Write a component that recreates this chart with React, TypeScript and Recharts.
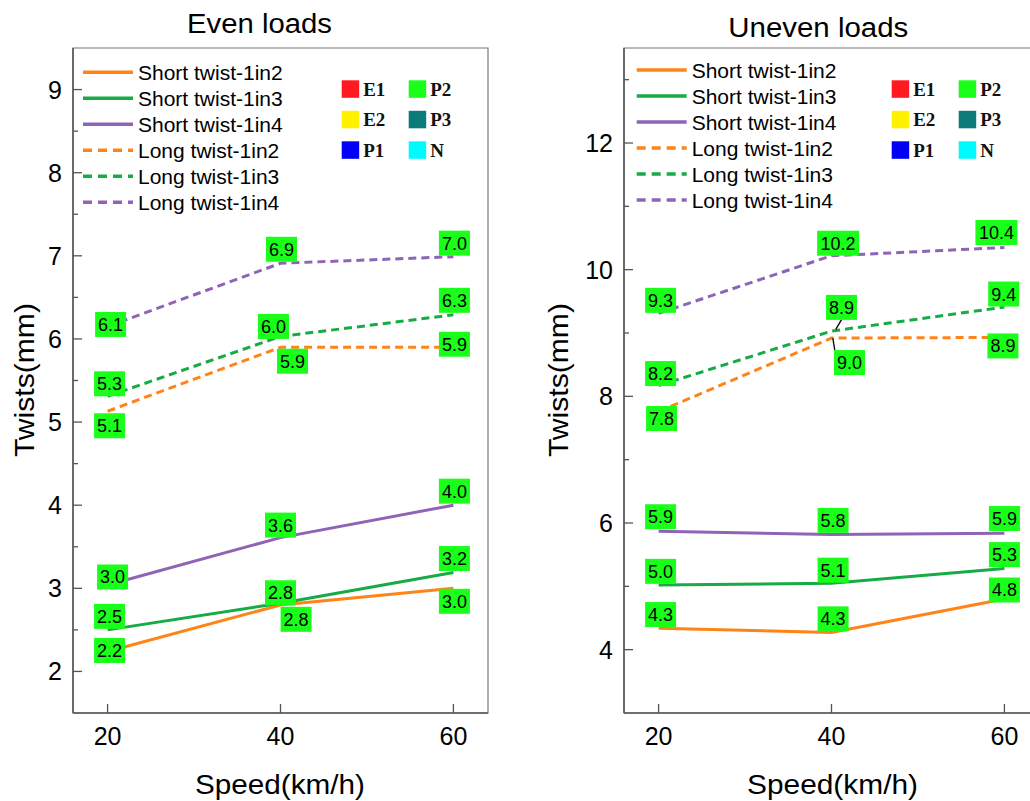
import React from "react";
import { LineChart, Line, XAxis, YAxis, ReferenceArea } from "recharts";

const speeds = [20, 40, 60];

// Even loads (mm)
const evenShort2 = [2.24, 2.8, 3.0];
const evenShort3 = [2.5, 2.82, 3.19];
const evenShort4 = [3.04, 3.61, 4.0];
const evenLong2 = [5.13, 5.9, 5.9];
const evenLong3 = [5.31, 6.03, 6.29];
const evenLong4 = [6.15, 6.91, 6.99];

// Even loads – printed data labels
const evenShort2Labels = ["2.2", "2.8", "3.0"];
const evenShort3Labels = ["2.5", "2.8", "3.2"];
const evenShort4Labels = ["3.0", "3.6", "4.0"];
const evenLong2Labels = ["5.1", "5.9", "5.9"];
const evenLong3Labels = ["5.3", "6.0", "6.3"];
const evenLong4Labels = ["6.1", "6.9", "7.0"];

// Uneven loads (mm)
const unevenShort2 = [4.34, 4.27, 4.8];
const unevenShort3 = [5.02, 5.05, 5.28];
const unevenShort4 = [5.87, 5.82, 5.84];
const unevenLong2 = [7.76, 8.92, 8.93];
const unevenLong3 = [8.17, 9.03, 9.41];
const unevenLong4 = [9.31, 10.22, 10.35];

const unevenShort2Labels = ["4.3", "4.3", "4.8"];
const unevenShort3Labels = ["5.0", "5.1", "5.3"];
const unevenShort4Labels = ["5.9", "5.8", "5.9"];
const unevenLong2Labels = ["7.8", "9.0", "8.9"];
const unevenLong3Labels = ["8.2", "8.9", "9.4"];
const unevenLong4Labels = ["9.3", "10.2", "10.4"];

const evenTicks = [2, 2.5, 3, 3.5, 4, 4.5, 5, 5.5, 6, 6.5, 7, 7.5, 8, 8.5, 9];
const unevenTicks = [4, 5, 6, 7, 8, 9, 10, 11, 12, 13];
const xTicks = [20, 40, 60];

const seriesKeys = ["s2", "s3", "s4", "l2", "l3", "l4"];
const seriesNames = [
  "Short twist-1in2",
  "Short twist-1in3",
  "Short twist-1in4",
  "Long twist-1in2",
  "Long twist-1in3",
  "Long twist-1in4",
];

const keyNames = ["E1", "E2", "P1", "P2", "P3", "N"];

const ORANGE = "#ff8418";
const GREEN = "#17ab45";
const PURPLE = "#8f64b7";
const seriesColors = [ORANGE, GREEN, PURPLE, ORANGE, GREEN, PURPLE];
const seriesDashed = [false, false, false, true, true, true];
const keyColors = ["#ff1a22", "#fff200", "#0000f5", "#1aff1a", "#0a7b78", "#00fbff"];

const BOX = "#1aff1a";
const AXIS = "#555";
const FONT = "'Liberation Sans', Arial, Helvetica, sans-serif";
const SERIF = "'Liberation Serif', 'Times New Roman', serif";

type Off = { dx: number; dy: number; leader?: number[] };

const evenOffsets: Record<string, Off> = {
  s20: { dx: 2, dy: -1 }, s21: { dx: 15.6, dy: 14.4 }, s22: { dx: 1, dy: 13 },
  s30: { dx: 2, dy: -13.5 }, s31: { dx: 0, dy: -10.5 }, s32: { dx: 1, dy: -14 },
  s40: { dx: 5, dy: -8 }, s41: { dx: 0, dy: -12.5 }, s42: { dx: 1, dy: -14 },
  l20: { dx: 2, dy: 14.5 }, l21: { dx: 12, dy: 14 }, l22: { dx: 1, dy: -3 },
  l30: { dx: 2, dy: -12.5 }, l31: { dx: -7, dy: -10 }, l32: { dx: 1, dy: -14.5 },
  l40: { dx: 3, dy: -2 }, l41: { dx: 1, dy: -14 }, l42: { dx: 1, dy: -13.5 },
};

const unevenOffsets: Record<string, Off> = {
  s20: { dx: 2, dy: -13.6 }, s21: { dx: 1.6, dy: -13.7 }, s22: { dx: 0, dy: -9 },
  s30: { dx: 2, dy: -13.7 }, s31: { dx: 1.6, dy: -13 }, s32: { dx: 0, dy: -14 },
  s40: { dx: 2, dy: -14.5 }, s41: { dx: 1.6, dy: -14 }, s42: { dx: 0, dy: -14.6 },
  l20: { dx: 3, dy: 7 }, l21: { dx: 18, dy: 24.5, leader: [1.3, 0, 3.3, 12] }, l22: { dx: -1.5, dy: 8.5 },
  l30: { dx: 2, dy: -12 }, l31: { dx: 10, dy: -23.7, leader: [4.3, -1.7, 10, -11.5] }, l32: { dx: -0.7, dy: -13 },
  l40: { dx: 2, dy: -13 }, l41: { dx: 6.6, dy: -12.5 }, l42: { dx: -8, dy: -15 },
};

type Panel = {
  values: number[][];
  labels: string[][];
  offsets: Record<string, Off>;
  yDomain: [number, number];
  yTicks: number[];
  majorStep: number;
  left: number;
  yAxisWidth: number;
  marginRight: number;
};

const panels: Panel[] = [
  {
    values: [evenShort2, evenShort3, evenShort4, evenLong2, evenLong3, evenLong4],
    labels: [evenShort2Labels, evenShort3Labels, evenShort4Labels, evenLong2Labels, evenLong3Labels, evenLong4Labels],
    offsets: evenOffsets,
    yDomain: [1.5, 9.5],
    yTicks: evenTicks,
    majorStep: 1,
    left: 0,
    yAxisWidth: 73,
    marginRight: 12,
  },
  {
    values: [unevenShort2, unevenShort3, unevenShort4, unevenLong2, unevenLong3, unevenLong4],
    labels: [unevenShort2Labels, unevenShort3Labels, unevenShort4Labels, unevenLong2Labels, unevenLong3Labels, unevenLong4Labels],
    offsets: unevenOffsets,
    yDomain: [3, 13.5],
    yTicks: unevenTicks,
    majorStep: 2,
    left: 552,
    yAxisWidth: 72,
    marginRight: 13,
  },
];

const PLOT_TOP = 48;
const PLOT_BOTTOM = 713;

function PanelChart({ panel }: { panel: Panel }) {
  const data = speeds.map((s, i) => {
    const row: Record<string, number> = { speed: s };
    seriesKeys.forEach((k, j) => (row[k] = panel.values[j][i]));
    return row;
  });
  const plotLeft = panel.yAxisWidth;

  const xTick = (p: any) => (
    <g>
      <line x1={p.x} x2={p.x} y1={PLOT_BOTTOM} y2={PLOT_BOTTOM - 9} stroke={AXIS} strokeWidth={1.3} />
      <text x={p.x} y={745} textAnchor="middle" fontSize={25} fontFamily={FONT} fill="#000">
        {p.payload.value}
      </text>
    </g>
  );

  const yTick = (p: any) => {
    const v = p.payload.value;
    const major = Math.abs(v / panel.majorStep - Math.round(v / panel.majorStep)) < 1e-6;
    return (
      <g>
        <line x1={plotLeft} x2={plotLeft + (major ? 9 : 5)} y1={p.y} y2={p.y} stroke={AXIS} strokeWidth={1.3} />
        {major && (
          <text x={plotLeft - 11} y={p.y} dy="0.36em" textAnchor="end" fontSize={25} fontFamily={FONT} fill="#000">
            {v}
          </text>
        )}
      </g>
    );
  };

  const labelDot = (j: number) => (p: any) => {
    const i = p.index;
    const key = seriesKeys[j];
    const text = panel.labels[j][i];
    const o = panel.offsets[key + i] || { dx: 0, dy: -13.5 };
    const w = text.length > 3 ? 42 : 31;
    const h = 25;
    const cx = p.cx + o.dx;
    const cy = p.cy + o.dy;
    return (
      <g key={`${key}-${i}`}>
        {o.leader && (
          <line
            x1={p.cx + o.leader[0]}
            y1={p.cy + o.leader[1]}
            x2={p.cx + o.leader[2]}
            y2={p.cy + o.leader[3]}
            stroke="#000"
            strokeWidth={1.3}
          />
        )}
        <rect x={cx - w / 2} y={cy - h / 2} width={w} height={h} fill={BOX} />
        <text x={cx} y={cy} dy="0.36em" textAnchor="middle" fontSize={18} fontFamily={FONT} fill="#000">
          {text}
        </text>
      </g>
    );
  };

  return (
    <div style={{ position: "absolute", left: panel.left, top: 0 }}>
      <LineChart
        width={500}
        height={801}
        data={data}
        margin={{ top: PLOT_TOP, right: panel.marginRight, bottom: 0, left: 0 }}
      >
        <ReferenceArea
          x1={16}
          x2={64}
          y1={panel.yDomain[0]}
          y2={panel.yDomain[1]}
          fill="none"
          stroke="#777"
          strokeWidth={1.2}
          ifOverflow="visible"
        />
        <XAxis
          dataKey="speed"
          type="number"
          domain={[16, 64]}
          ticks={xTicks}
          interval={0}
          height={88}
          tickLine={false}
          axisLine={{ stroke: AXIS, strokeWidth: 1.5 }}
          tick={xTick}
        />
        <YAxis
          type="number"
          domain={panel.yDomain}
          ticks={panel.yTicks}
          interval={0}
          width={panel.yAxisWidth}
          tickLine={false}
          axisLine={{ stroke: AXIS, strokeWidth: 1.5 }}
          tick={yTick}
          allowDataOverflow
        />
        {seriesKeys.map((k, j) => (
          <Line
            key={k}
            dataKey={k}
            name={seriesNames[j]}
            stroke={seriesColors[j]}
            strokeWidth={3}
            strokeDasharray={seriesDashed[j] ? "8 5" : undefined}
            dot={false}
            activeDot={false}
            isAnimationActive={false}
          />
        ))}
        {seriesKeys.map((k, j) => (
          <Line
            key={`lab-${k}`}
            dataKey={k}
            stroke="none"
            legendType="none"
            dot={labelDot(j)}
            activeDot={false}
            isAnimationActive={false}
          />
        ))}
      </LineChart>
    </div>
  );
}

function Legends({ lx, ly, kx }: { lx: number; ly: number; kx: number }) {
  return (
    <g>
      {seriesNames.map((n, j) => {
        const y = ly + j * 26;
        return (
          <g key={n}>
            <line
              x1={lx}
              x2={lx + 50}
              y1={y}
              y2={y}
              stroke={seriesColors[j]}
              strokeWidth={3.5}
              strokeDasharray={seriesDashed[j] ? "9 6" : undefined}
            />
            <text x={lx + 55} y={y} dy="0.36em" fontSize={21} fontFamily={FONT} fill="#000">
              {n}
            </text>
          </g>
        );
      })}
      {keyNames.map((n, i) => {
        const col = Math.floor(i / 3);
        const row = i % 3;
        const x = kx + col * 67;
        const y = 89 + row * 30.5;
        return (
          <g key={n}>
            <rect x={x} y={y - 8.7} width={17.5} height={17.5} fill={keyColors[i]} />
            <text x={x + 21.5} y={y} dy="0.35em" fontSize={19} fontWeight="bold" fontFamily={SERIF} fill="#111">
              {n}
            </text>
          </g>
        );
      })}
    </g>
  );
}

export default function App() {
  return (
    <div
      style={{
        position: "fixed",
        left: 0,
        top: 0,
        width: 1030,
        height: 801,
        overflow: "hidden",
        background: "#fff",
        fontFamily: FONT,
      }}
    >
      {panels.map((p, i) => (
        <PanelChart key={i} panel={p} />
      ))}
      <svg width={1030} height={801} style={{ position: "absolute", left: 0, top: 0, pointerEvents: "none" }}>
        <g fontFamily={FONT} fill="#000">
          <text x={259.5} y={33} textAnchor="middle" fontSize={27} textLength={145} lengthAdjust="spacingAndGlyphs">
            Even loads
          </text>
          <text x={818.3} y={37} textAnchor="middle" fontSize={27} textLength={180} lengthAdjust="spacingAndGlyphs">
            Uneven loads
          </text>
          <text x={280} y={794} textAnchor="middle" fontSize={27} textLength={170} lengthAdjust="spacingAndGlyphs">
            Speed(km/h)
          </text>
          <text x={832.5} y={794} textAnchor="middle" fontSize={27} textLength={171} lengthAdjust="spacingAndGlyphs">
            Speed(km/h)
          </text>
          <text
            transform="translate(33.5,380) rotate(-90)"
            textAnchor="middle"
            fontSize={28}
            textLength={154}
            lengthAdjust="spacingAndGlyphs"
          >
            Twists(mm)
          </text>
          <text
            transform="translate(567.5,380) rotate(-90)"
            textAnchor="middle"
            fontSize={28}
            textLength={154}
            lengthAdjust="spacingAndGlyphs"
          >
            Twists(mm)
          </text>
        </g>
        <Legends lx={83} ly={72.3} kx={341.7} />
        <Legends lx={636.7} ly={70} kx={891.7} />
      </svg>
    </div>
  );
}
